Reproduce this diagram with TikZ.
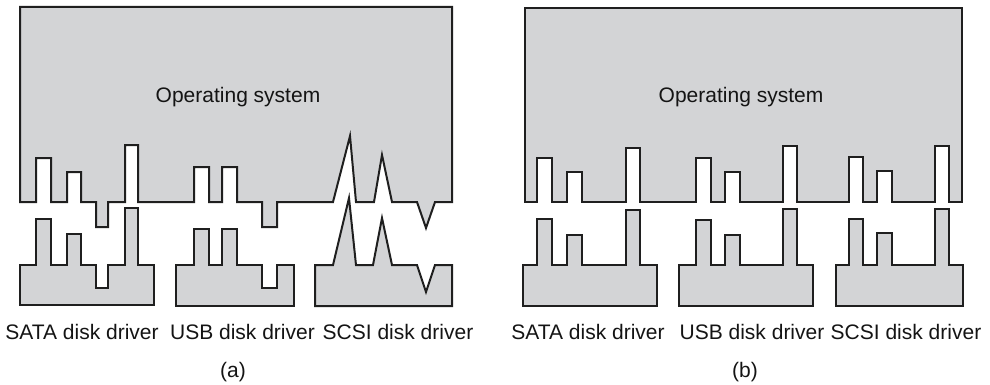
\documentclass[tikz,border=0pt]{standalone}
\usepackage{fontspec}
\setmainfont{Liberation Sans}
\definecolor{osgray}{RGB}{211,212,214}
\tikzset{
  part/.style={draw=black!88, fill=osgray, line width=2pt, line join=miter},
  lbl/.style={inner sep=0pt, font=\fontsize{21}{25}\selectfont, text=black!92},
  oslbl/.style={inner sep=0pt, font=\fontsize{21}{25}\selectfont, text=black!92}
}
\begin{document}
\begin{tikzpicture}[x=1pt,y=-1pt]
\useasboundingbox (0,0) rectangle (990,385);
% ---------- (a) ----------
\draw[part] (20,7) -- (452,7) -- (452,202) -- (435,202) -- (426,228) -- (417,202) -- (392,202) -- (382,155) -- (374,202) -- (356,202) -- (350,136) -- (333,202) -- (277,202) -- (277,227) -- (262,227) -- (262,202) -- (237,202) -- (237,167) -- (222,167) -- (222,202) -- (209,202) -- (209,167) -- (194,167) -- (194,202) -- (138,202) -- (138,145) -- (125,145) -- (125,202) -- (108,202) -- (108,227) -- (96,227) -- (96,202) -- (81,202) -- (81,172) -- (67,172) -- (67,202) -- (51,202) -- (51,158) -- (36,158) -- (36,202) -- (20,202) -- cycle;
\draw[part] (20,265) -- (36,265) -- (36,219) -- (51,219) -- (51,265) -- (67,265) -- (67,234) -- (81,234) -- (81,265) -- (96,265) -- (96,288) -- (108,288) -- (108,265) -- (125,265) -- (125,208) -- (138,208) -- (138,265) -- (154,265) -- (154,305) -- (20,305) -- cycle;
\draw[part] (176,265) -- (194,265) -- (194,229) -- (209,229) -- (209,265) -- (222,265) -- (222,229) -- (237,229) -- (237,265) -- (262,265) -- (262,288) -- (277,288) -- (277,265) -- (294,265) -- (294,306) -- (176,306) -- cycle;
\draw[part] (315,265) -- (333,265) -- (349,198) -- (356,265) -- (373,265) -- (382,218) -- (392,265) -- (417,265) -- (426,292) -- (435,265) -- (452,265) -- (452,306) -- (315,306) -- cycle;
\node[oslbl] (osa) at (238,97) {Operating system};
\node[lbl] (sataa) at (82,332) {SATA disk driver};
\node[lbl] (usba) at (242.5,332) {USB disk driver};
\node[lbl] (scsia) at (398,332) {SCSI disk driver};
\node[lbl] (capa) at (233,372) {(a)};
% ---------- (b) ----------
\draw[part] (525,8) -- (962,8) -- (962,202) -- (949,202) -- (949,146) -- (935,146) -- (935,202) -- (892,202) -- (892,171) -- (877,171) -- (877,202) -- (863,202) -- (863,157) -- (849,157) -- (849,202) -- (797,202) -- (797,146) -- (783,146) -- (783,202) -- (740,202) -- (740,172) -- (725,172) -- (725,202) -- (711,202) -- (711,158) -- (696,158) -- (696,202) -- (640,202) -- (640,148) -- (626,148) -- (626,202) -- (582,202) -- (582,172) -- (567,172) -- (567,202) -- (552,202) -- (552,158) -- (537,158) -- (537,202) -- (525,202) -- cycle;
\draw[part] (523,265) -- (537,265) -- (537,219) -- (552,219) -- (552,265) -- (567,265) -- (567,235) -- (582,235) -- (582,265) -- (626,265) -- (626,210) -- (640,210) -- (640,265) -- (657,265) -- (657,306) -- (523,306) -- cycle;
\draw[part] (679,265) -- (696,265) -- (696,220) -- (711,220) -- (711,265) -- (725,265) -- (725,235) -- (740,235) -- (740,265) -- (783,265) -- (783,209) -- (797,209) -- (797,265) -- (813,265) -- (813,306) -- (679,306) -- cycle;
\draw[part] (836,265) -- (849,265) -- (849,219) -- (863,219) -- (863,265) -- (877,265) -- (877,233) -- (892,233) -- (892,265) -- (935,265) -- (935,209) -- (949,209) -- (949,265) -- (963,265) -- (963,306) -- (836,306) -- cycle;
\node[oslbl] (osb) at (741,97) {Operating system};
\node[lbl] (satab) at (588,332) {SATA disk driver};
\node[lbl] (usbb) at (752,332) {USB disk driver};
\node[lbl] (scsib) at (906,332) {SCSI disk driver};
\node[lbl] (capb) at (745,372) {(b)};
\end{tikzpicture}
\end{document}
